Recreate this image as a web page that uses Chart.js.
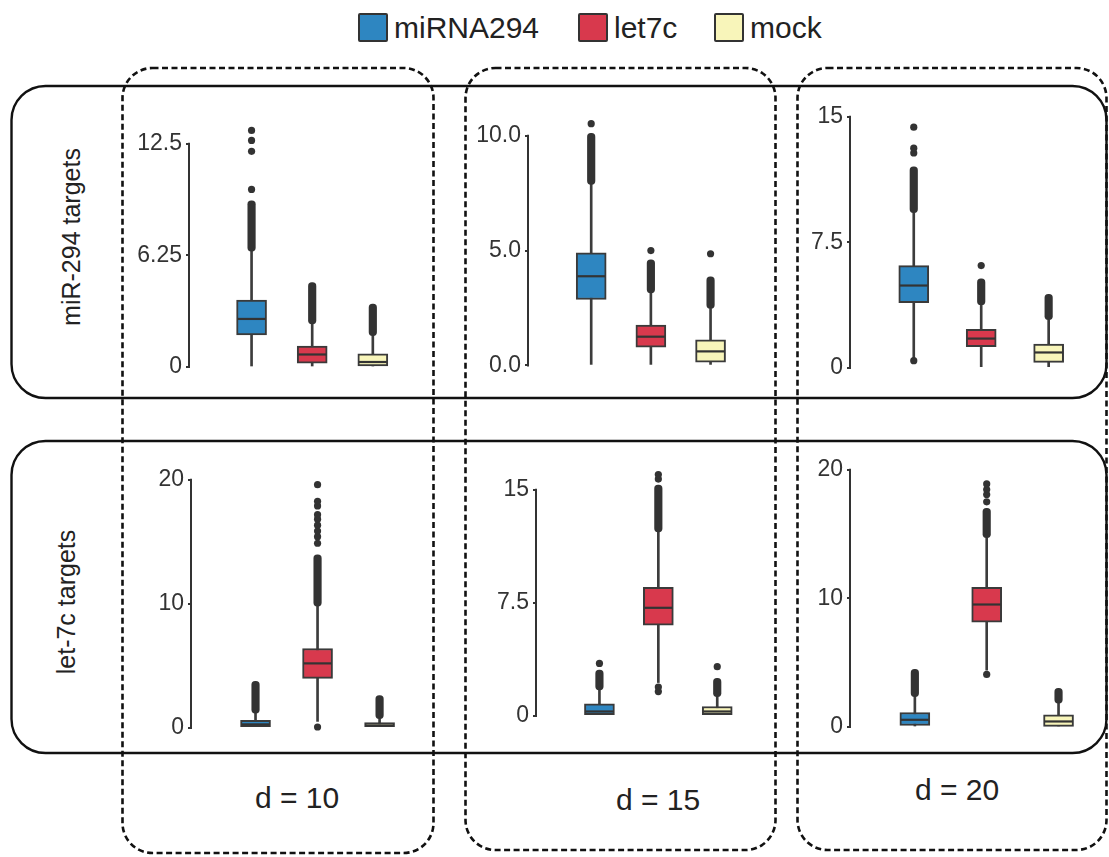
<!DOCTYPE html>
<html>
<head>
<meta charset="utf-8">
<script src="https://cdn.jsdelivr.net/npm/chart.js@4.4.1/dist/chart.umd.min.js"></script>
<style>
  html, body { margin: 0; padding: 0; background: #fff; }
  #page { position: relative; width: 1109px; height: 857px; overflow: hidden;
          font-family: "Liberation Sans", Arial, Helvetica, sans-serif; color: #222; }
  #page svg { position: absolute; left: 0; top: 0; }
  #page canvas { position: absolute; }
  .txt { position: absolute; white-space: nowrap; line-height: 1; }
  .swatch { position: absolute; box-sizing: border-box; border: 2.5px solid #333; border-radius: 2px; }
</style>
</head>
<body>
<div id="page">
  <svg width="1109" height="857" viewBox="0 0 1109 857">
    <!-- row frames -->
    <rect x="11.5" y="86" width="1095" height="312" rx="34" ry="34" fill="none" stroke="#111" stroke-width="2.4"/>
    <rect x="11.5" y="441" width="1095" height="312" rx="34" ry="34" fill="none" stroke="#111" stroke-width="2.4"/>
    <!-- column frames -->
    <g fill="none" stroke="#111" stroke-width="2.6" stroke-dasharray="6 3.5">
      <rect x="122.5" y="68" width="311" height="785" rx="30" ry="30"/>
      <rect x="465.5" y="68" width="310" height="782" rx="30" ry="30"/>
      <rect x="797.5" y="68" width="309" height="782" rx="30" ry="30"/>
    </g>
  </svg>
</div>

<script>
// ---- groups and labels ----
const categories = ['miRNA294', 'let7c', 'mock'];
const seriesColors = ['#2e86c1', '#d8394d', '#f8f5ba'];
const rowLabels = ['miR-294 targets', 'let-7c targets'];
const distanceLabels = ['d = 10', 'd = 15', 'd = 20'];

// ---- box summaries per group: [low whisker, Q1, median, Q3, high whisker] ----
const mir294_d10 = [[0, 1.80, 2.69, 3.74, 6.48], [0, 0.22, 0.70, 1.17, 2.41], [0, 0.00, 0.28, 0.74, 1.76]];
const mir294_d15 = [[0, 2.87, 3.88, 4.90, 7.88], [0, 0.79, 1.25, 1.76, 3.16], [0, 0.14, 0.61, 1.11, 2.48]];
const mir294_d20 = [[0.55, 3.88, 4.91, 6.10, 9.26], [0, 1.25, 1.74, 2.30, 3.76], [0, 0.32, 0.91, 1.41, 2.87]];
const let7c_d10 = [[0, 0.00, 0.26, 0.58, 1.17], [0.50, 3.97, 5.18, 6.38, 9.80], [0, 0.00, 0.18, 0.40, 0.72]];
const let7c_d15 = [[0, 0.00, 0.28, 0.79, 1.71], [2.20, 6.00, 7.16, 8.52, 12.20], [0, 0.00, 0.28, 0.61, 1.27]];
const let7c_d20 = [[0, 0.12, 0.56, 1.13, 2.36], [4.42, 8.15, 9.52, 10.85, 14.72], [0, 0.05, 0.43, 0.95, 1.85]];

// ---- continuous runs of overlapping outliers: [from, to] ----
const mir294_d10_dense = [[6.48, 9.30], [2.41, 4.72], [1.76, 3.52]];
const mir294_d15_dense = [[7.88, 10.10], [3.16, 4.60], [2.48, 3.85]];
const mir294_d20_dense = [[9.26, 12.00], [3.76, 5.31], [2.87, 4.38]];
const let7c_d10_dense = [[1.17, 3.73], [9.80, 13.94], [0.72, 2.59]];
const let7c_d15_dense = [[1.71, 3.03], [12.20, 15.30], [1.27, 2.48]];
const let7c_d20_dense = [[2.36, 4.48], [14.72, 17.00], [1.85, 3.01]];

// ---- isolated outliers ----
const mir294_d10_out = [[9.94, 12.07, 12.68, 13.24], [], []];
const mir294_d15_out = [[10.52], [5.00], [4.86]];
const mir294_d20_out = [[0.42, 12.83, 13.12, 14.37], [6.10], []];
const let7c_d10_out = [[], [0.05, 14.87, 15.40, 15.85, 16.33, 16.81, 17.18, 17.88, 18.25, 19.60], []];
const let7c_d15_out = [[3.47], [1.60, 1.90, 15.70, 16.00], [3.25]];
const let7c_d20_out = [[], [4.09, 17.50, 18.07, 18.46, 18.89], []];

// ---- y-axis ticks ----
const mir294_d10_ticks = [0, 6.25, 12.5];
const mir294_d15_ticks = [0, 5, 10];
const mir294_d20_ticks = [0, 7.5, 15];
const let7c_d10_ticks = [0, 10, 20];
const let7c_d15_ticks = [0, 7.5, 15];
const let7c_d20_ticks = [0, 10, 20];
const mir294_d10_tickText = ['0', '6.25', '12.5'];
const mir294_d15_tickText = ['0.0', '5.0', '10.0'];
const mir294_d20_tickText = ['0', '7.5', '15'];
const let7c_d10_tickText = ['0', '10', '20'];
const let7c_d15_tickText = ['0', '7.5', '15'];
const let7c_d20_tickText = ['0', '10', '20'];

// ---- panel placement (axis line x, top tick y, zero y, first box x, box spacing) ----
const panels = [
  { box: mir294_d10, dense: mir294_d10_dense, out: mir294_d10_out, ticks: mir294_d10_ticks, tickText: mir294_d10_tickText,
    axisX: 190, topY: 141.7, zeroY: 366.7, firstX: 256, stepX: 65 },
  { box: mir294_d15, dense: mir294_d15_dense, out: mir294_d15_out, ticks: mir294_d15_ticks, tickText: mir294_d15_tickText,
    axisX: 529.3, topY: 134.3, zeroY: 365.7, firstX: 596, stepX: 64 },
  { box: mir294_d20, dense: mir294_d20_dense, out: mir294_d20_out, ticks: mir294_d20_ticks, tickText: mir294_d20_tickText,
    axisX: 851, topY: 115, zeroY: 367.7, firstX: 918, stepX: 72 },
  { box: let7c_d10, dense: let7c_d10_dense, out: let7c_d10_out, ticks: let7c_d10_ticks, tickText: let7c_d10_tickText,
    axisX: 191.7, topY: 477.7, zeroY: 727.3, firstX: 259.7, stepX: 66.4 },
  { box: let7c_d15, dense: let7c_d15_dense, out: let7c_d15_out, ticks: let7c_d15_ticks, tickText: let7c_d15_tickText,
    axisX: 536.7, topY: 488.3, zeroY: 716, firstX: 603.7, stepX: 63.2 },
  { box: let7c_d20, dense: let7c_d20_dense, out: let7c_d20_out, ticks: let7c_d20_ticks, tickText: let7c_d20_tickText,
    axisX: 851, topY: 468.3, zeroY: 727.3, firstX: 919, stepX: 76.5 }
];

const FONT = "'Liberation Sans', Arial, Helvetica, sans-serif";
const INK = '#333';
const page = document.getElementById('page');

function addText(str, x, y, size, extra) {
  const d = document.createElement('div');
  d.className = 'txt';
  d.textContent = str;
  d.style.left = x + 'px';
  d.style.top = y + 'px';
  d.style.fontSize = size + 'px';
  d.style.transform = extra || 'translate(-50%, -50%)';
  page.appendChild(d);
  return d;
}

// legend
const legendSwatchX = [358, 578, 714];
categories.forEach((name, i) => {
  const s = document.createElement('div');
  s.className = 'swatch';
  s.style.left = legendSwatchX[i] + 'px';
  s.style.top = '13px';
  s.style.width = '30px';
  s.style.height = '29px';
  s.style.background = seriesColors[i];
  page.appendChild(s);
  addText(name, legendSwatchX[i] + 36, 28, 30, 'translate(0, -50%)');
});

// row titles
addText(rowLabels[0], 71, 237, 25, 'translate(-50%, -50%) rotate(-90deg)');
addText(rowLabels[1], 66, 602, 25, 'translate(-50%, -50%) rotate(-90deg)');

// column titles
const distanceX = [297, 658, 957];
const distanceY = [798, 800, 790];
distanceLabels.forEach((t, i) => addText(t, distanceX[i], distanceY[i], 30));

// axis spine that runs only from the lowest to the highest tick
const spinePlugin = {
  id: 'spine',
  beforeDatasetsDraw(chart, args, opts) {
    const ys = chart.scales.y;
    const x = chart.chartArea.left - 1;
    const ctx = chart.ctx;
    ctx.save();
    ctx.strokeStyle = INK;
    ctx.lineWidth = 2;
    ctx.beginPath();
    ctx.moveTo(x, ys.getPixelForValue(opts.from) + 1);
    ctx.lineTo(x, ys.getPixelForValue(opts.to) - 1);
    ctx.stroke();
    ctx.restore();
  }
};

// box plots
const CANVAS_TOP = 36, PAD_TOP = 16, PAD_BOTTOM = 22, AXIS_W = 80, PAD_RIGHT = 45;

panels.forEach(p => {
  const lastX = p.firstX + 2 * p.stepX;
  const w = Math.round(AXIS_W + (lastX - p.axisX) + PAD_RIGHT);
  const areaH = p.zeroY - p.topY;
  const h = Math.round(CANVAS_TOP + areaH + PAD_BOTTOM);
  const cv = document.createElement('canvas');
  cv.width = w;
  cv.height = h;
  cv.style.width = w + 'px';
  cv.style.height = h + 'px';
  cv.style.left = (p.axisX - AXIS_W) + 'px';
  cv.style.top = (p.topY - CANVAS_TOP) + 'px';
  page.appendChild(cv);

  const areaW = w - AXIS_W;
  const xMin = -(p.firstX - p.axisX) / p.stepX;
  const xMax = xMin + areaW / p.stepX;
  const headroom = CANVAS_TOP - PAD_TOP;
  const yMin = p.ticks[0];
  const yTop = p.ticks[p.ticks.length - 1];
  const yMax = yMin + (yTop - yMin) * (areaH + headroom) / areaH;
  const bottomPad = h - CANVAS_TOP - areaH;

  const outPts = [];
  p.out.forEach((list, i) => list.forEach(v => outPts.push({ x: i, y: v })));

  new Chart(cv, {
    type: 'bar',
    plugins: [spinePlugin],
    data: {
      datasets: [
        { // whiskers
          type: 'bar', order: 4, grouped: false, clip: false,
          data: p.box.map((g, i) => ({ x: i, y: [g[0], g[4]] })),
          backgroundColor: '#3c3c3c', borderWidth: 0, barThickness: 2
        },
        { // overlapping outliers
          type: 'bar', order: 3, grouped: false, clip: false,
          data: p.dense.map((r, i) => ({ x: i, y: [r[0], r[1]] })),
          backgroundColor: INK, borderWidth: 0, barThickness: 7.5,
          borderRadius: 3.7, borderSkipped: false
        },
        { // interquartile boxes
          type: 'bar', order: 2, grouped: false, clip: false,
          data: p.box.map((g, i) => ({ x: i, y: [g[1], g[3]] })),
          backgroundColor: seriesColors, borderColor: '#3a3a3a', borderWidth: 2,
          borderSkipped: false, barThickness: 30
        },
        { // medians
          type: 'line', order: 1, showLine: false, clip: false,
          data: p.box.map((g, i) => ({ x: i, y: g[2] })),
          pointStyle: 'line', pointRadius: 14, pointBorderWidth: 2.2,
          pointBorderColor: '#333', pointBackgroundColor: '#333'
        },
        { // isolated outliers
          type: 'line', order: 0, showLine: false, clip: false,
          data: outPts,
          pointStyle: 'circle', pointRadius: 3.6, pointBorderWidth: 0,
          pointBackgroundColor: INK
        }
      ]
    },
    options: {
      responsive: false,
      animation: false,
      events: [],
      layout: { padding: { top: PAD_TOP, bottom: bottomPad, left: 0, right: 0 } },
      plugins: {
        legend: { display: false },
        tooltip: { enabled: false },
        spine: { from: yMin, to: yTop }
      },
      scales: {
        x: {
          type: 'linear', display: false, offset: false,
          min: xMin, max: xMax,
          grid: { display: false, offset: false }
        },
        y: {
          type: 'linear', min: yMin, max: yMax,
          afterBuildTicks: s => { s.ticks = p.ticks.map(v => ({ value: v })); },
          afterFit: s => { s.width = AXIS_W; },
          border: { display: false },
          grid: { display: true, drawOnChartArea: false, drawTicks: true, tickLength: 4, color: INK, lineWidth: 2 },
          ticks: {
            padding: 4, color: INK,
            font: { family: FONT, size: 23 },
            callback: (v, i) => p.tickText[i]
          }
        }
      }
    }
  });
});
</script>
</body>
</html>
